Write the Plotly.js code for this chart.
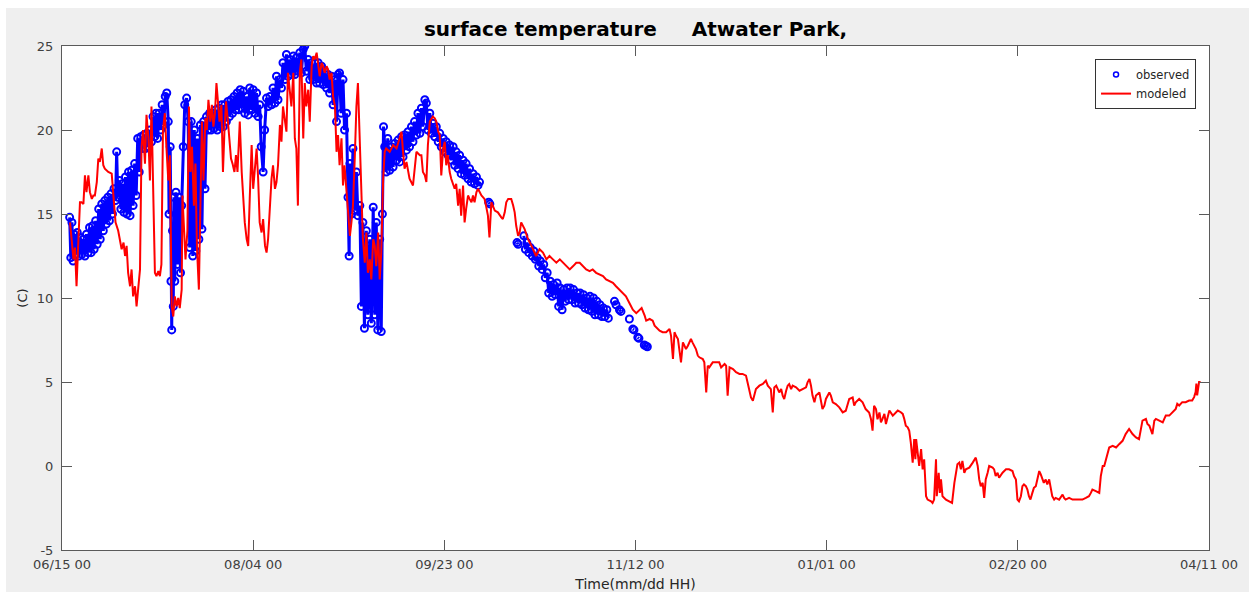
<!DOCTYPE html>
<html><head><meta charset="utf-8">
<script src="https://cdn.plot.ly/plotly-3.0.1.min.js"></script>
<style>
html,body{margin:0;padding:0;background:#ffffff;}
#chart{position:absolute;left:6px;top:8px;width:1243px;height:584px;}
</style></head><body><div id="chart"></div><script>
// Time origin: 06/15 00 ; day offsets below
const startDate = Date.UTC(2012, 5, 15);
const tickLabelsFormat = '%m/%d %H';
const chartTitle = 'surface temperature\u00A0\u00A0\u00A0\u00A0\u00A0Atwater Park,';
const xTitle = 'Time(mm/dd HH)';
const yTitle = '(C)';
const yTickVals = [-5, 0, 5, 10, 15, 20, 25];
const yTickText = ['-5', '0', '5', '10', '15', '20', '25'];

// observed (day offset, value); null = gap
const obsDay = [2.0,2.3,2.6,2.9,3.2,3.6,4.0,4.4,4.8,5.2,5.6,6.0,6.4,6.8,7.2,7.6,8.0,8.4,8.8,9.2,9.6,10.0,10.4,10.8,11.2,11.6,12.0,12.4,12.8,13.2,13.6,14.0,14.3,14.6,15.0,15.4,15.8,16.2,16.6,17.0,17.4,17.8,18.2,18.6,19.0,19.4,19.8,20.2,20.6,21.0,21.4,21.8,22.2,22.6,23.0,23.4,23.8,24.2,24.6,25.0,25.4,25.8,26.2,26.6,27.0,27.4,27.8,28.0,28.3,28.5,28.7,28.9,29.1,29.3,29.5,29.8,30.2,30.6,31.0,31.3,31.7,32.1,32.6,33.0,33.4,33.8,34.2,34.6,35.0,35.4,35.8,36.2,36.6,37.0,37.4,37.8,38.2,38.6,39.0,39.4,39.8,40.2,40.6,41.0,41.4,41.8,42.2,42.6,43.0,43.4,43.8,44.2,44.6,45.0,45.4,45.8,46.2,46.6,47.0,
47.4,47.8,48.3,48.7,49.1,49.6,50.0,50.5,50.9,51.3,51.7,52.1,52.6,53.0,53.5,53.9,54.4,54.8,55.2,55.7,56.1,56.5,57.0,57.4,57.8,58.3,58.7,59.1,59.6,60.0,60.5,60.9,61.3,61.8,62.2,62.6,63.1,63.5,63.9,64.4,64.8,65.3,65.7,66.2,66.6,67.0,67.4,67.9,68.3,68.7,69.2,69.6,70.0,70.5,70.9,71.4,71.8,72.2,72.6,73.0,73.5,73.9,74.4,74.8,75.1,75.3,75.7,76.1,76.6,77.0,77.4,77.9,78.3,78.7,79.1,79.6,80.0,80.5,80.9,81.4,81.8,82.2,82.6,83.1,83.5,83.8,84.1,84.4,84.8,85.2,85.7,86.1,86.6,87.0,87.5,87.9,88.3,88.8,89.2,89.6,90.1,90.5,90.9,91.4,91.8,92.2,92.7,93.1,93.6,94.0,94.4,94.9,95.3,
95.7,96.2,96.6,97.0,97.5,97.9,98.4,98.8,99.2,99.7,100.1,100.5,101.0,101.4,101.8,102.3,102.7,103.1,103.6,104.0,104.4,104.9,105.3,105.7,106.2,106.6,107.0,107.5,107.9,108.4,108.8,109.2,null,111.6,111.9,null,119.0,119.3,null,120.8,121.2,121.6,122.1,122.5,123.0,123.4,123.8,124.3,124.7,125.1,125.6,126.0,126.4,126.9,127.3,127.7,128.2,128.6,129.0,129.5,129.9,130.3,130.8,131.2,131.6,132.1,132.5,132.9,133.4,133.8,134.2,134.7,135.1,135.5,136.0,136.4,136.8,137.3,137.7,138.1,138.6,139.0,139.4,139.9,140.3,140.7,141.2,141.6,142.0,142.5,142.9,null,144.5,144.9,null,145.8,146.2,null,148.4,null,149.3,149.6,null,150.6,150.9,null,152.3,152.7,153.1];
const obsVal = [14.8,12.4,14.5,12.2,13.8,12.6,13.9,12.5,13.6,12.6,13.5,12.5,13.8,12.7,14.2,12.7,14.3,12.9,14.6,13.2,15.3,13.5,15.6,14.0,15.8,14.4,16.0,14.6,16.2,15.0,16.5,15.8,18.7,16.0,17.0,15.3,16.8,15.1,17.2,15.0,17.5,14.9,17.6,15.5,18.0,16.1,19.5,17.5,19.6,18.9,19.7,18.9,19.8,19.0,20.0,19.3,20.8,19.6,21.0,19.5,21.0,20.0,21.5,20.3,22.0,22.2,20.5,15.0,19.0,11.0,8.1,14.0,9.5,16.0,11.0,16.3,12.0,16.0,11.5,15.5,19.0,21.5,21.9,20.5,13.0,20.5,12.5,20.0,12.8,19.5,13.5,20.3,14.1,20.5,16.5,20.8,20.0,21.0,20.0,21.0,20.1,21.2,20.0,21.3,20.2,21.5,20.2,21.5,20.5,21.7,20.8,21.8,21.0,22.0,21.2,22.2,21.2,22.4,21.3,
22.3,21.0,22.0,20.9,22.5,21.2,22.4,21.0,22.2,20.8,21.5,19.0,17.5,20.0,21.9,21.4,22.0,21.5,22.5,21.6,23.2,21.8,23.0,22.5,24.0,23.0,24.5,23.2,24.2,23.3,24.4,23.3,24.3,23.5,24.6,23.4,24.8,25.0,23.5,24.2,23.0,24.0,23.0,24.0,22.8,24.0,22.8,23.8,22.7,23.5,22.5,23.3,22.2,23.2,21.5,23.0,20.5,23.3,23.4,21.0,23.0,20.0,21.0,16.0,12.5,18.0,15.0,18.9,15.2,17.5,14.9,15.5,9.5,14.5,8.2,14.0,9.0,13.5,8.5,15.4,9.0,14.5,8.1,13.5,8.0,15.0,20.2,19.0,17.5,19.5,17.6,19.0,17.8,19.2,18.2,19.4,18.1,19.6,18.4,19.7,18.8,19.9,19.0,20.2,19.3,20.5,19.7,21.0,19.8,21.3,20.2,21.8,21.6,
20.0,21.0,19.8,20.4,19.6,20.2,19.3,19.8,19.0,19.5,18.7,19.3,18.5,19.1,18.2,19.0,17.9,18.7,17.7,18.5,17.4,18.2,17.3,18.0,17.1,17.7,16.9,17.4,16.8,17.2,16.7,16.9,null,15.7,15.6,null,13.3,13.2,null,13.7,12.9,13.3,12.7,13.0,12.5,12.8,12.3,12.4,11.9,12.2,11.7,12.0,11.2,11.5,10.3,11.0,10.1,10.8,10.2,10.9,9.5,10.6,9.3,10.5,9.8,10.6,9.9,10.6,9.9,10.5,9.7,10.3,9.7,10.3,9.6,10.2,9.4,10.0,9.3,10.1,9.2,10.0,9.0,9.8,9.0,9.6,8.9,9.4,8.9,9.3,8.8,null,9.8,9.6,null,9.3,9.2,null,8.75,null,8.15,8.1,null,7.66,7.6,null,7.2,7.15,7.1];

// modeled (day offset, value)
const modDay = [2.1,2.6,3.0,3.4,3.8,4.3,4.7,5.1,5.6,6.0,6.4,6.9,7.3,7.8,8.2,8.6,9.1,9.5,9.9,10.4,10.8,11.2,12.1,13.0,13.5,14.0,14.7,15.2,15.6,16.1,16.5,16.9,17.3,17.8,18.2,18.6,19.1,19.5,19.9,20.4,20.8,21.2,21.7,22.1,22.6,23.0,23.4,23.9,24.3,24.7,25.2,25.6,26.0,26.4,26.9,27.3,27.8,28.2,28.5,28.7,29.1,29.5,30.0,30.4,30.8,31.3,31.5,31.9,32.3,32.8,33.2,33.6,34.0,34.5,34.9,35.3,35.8,36.2,36.6,37.0,37.5,37.9,38.3,38.8,39.2,39.6,40.0,40.4,40.8,41.2,41.7,42.1,42.5,42.9,43.4,43.8,44.2,44.6,45.1,45.5,45.9,46.3,46.5,47.0,47.4,47.8,48.3,48.7,49.1,49.6,50.0,50.9,51.3,51.7,52.2,52.6,53.1,53.5,53.9,54.4,54.8,55.2,55.7,56.1,56.5,57.0,57.4,57.8,58.7,59.1,59.6,60.0,60.5,60.9,61.3,61.7,62.2,62.6,63.1,63.5,63.9,64.4,64.8,65.3,65.7,66.1,66.6,67.0,67.4,67.9,68.3,68.7,69.2,69.6,70.0,70.5,70.9,71.4,71.8,72.2,72.6,73.1,73.5,73.9,74.4,74.8,75.3,75.7,76.1,76.6,77.0,77.4,77.9,78.3,78.7,79.2,79.6,80.0,80.5,80.9,81.4,81.8,82.2,82.7,83.1,83.5,84.0,84.4,84.8,85.7,86.6,87.5,88.3,88.8,89.2,89.6,90.1,90.5,90.9,91.8,92.3,92.7,93.6,94.0,94.4,94.9,95.3,95.7,96.2,96.6,97.0,97.5,97.9,98.4,98.8,99.2,99.7,100.1,100.5,100.9,101.4,101.8,102.3,102.7,103.1,103.6,104.0,104.4,104.9,105.3,105.7,106.2,106.6,107.1,107.5,107.9,108.4,108.8,109.7,110.5,110.9,111.4,111.8,112.3,113.2,114.0,114.9,115.3,115.8,116.2,116.7,117.5,118.0,118.4,118.8,119.3,119.7,120.1,121.0,121.9,122.8,123.6,124.0,124.9,125.8,126.7,127.5,128.4,129.3,130.2,131.0,131.9,132.8,133.7,134.5,135.4,136.2,137.1,138.0,138.8,139.7,140.6,141.5,142.3,143.2,144.1,144.9,145.8,146.7,147.5,148.4,149.3,150.2,151.0,151.6,152.4,152.8,153.7,154.5,155.0,155.4,156.3,157.1,158.0,158.9,159.3,159.8,160.2,160.6,161.1,161.9,162.4,162.8,163.2,163.7,164.5,164.9,165.4,165.8,166.3,166.7,167.6,168.0,168.5,168.9,169.3,170.2,171.1,171.9,172.4,173.3,173.7,174.1,174.6,175.5,176.3,177.2,178.0,178.9,179.3,179.8,180.2,180.7,181.1,181.5,182.4,183.3,184.1,184.6,185.4,185.9,186.3,186.8,187.6,188.1,188.5,188.9,189.4,189.8,190.2,190.7,191.1,192.0,192.9,193.7,194.6,195.0,195.5,195.9,196.3,196.8,197.2,198.1,198.5,198.9,199.4,199.8,200.7,201.1,201.6,202.4,203.3,204.2,205.0,205.9,206.8,207.2,207.6,208.5,209.4,210.2,211.1,211.6,212.0,212.4,212.9,213.3,213.8,214.2,214.6,215.1,215.5,215.9,216.4,217.3,218.1,218.6,219.4,219.9,220.3,220.7,221.2,221.6,222.0,222.5,222.9,223.2,223.4,223.8,224.2,224.7,225.1,225.5,226.0,226.4,227.3,227.7,228.1,228.6,228.8,229.3,229.6,229.9,230.3,231.2,232.1,232.8,233.4,233.8,234.2,234.7,235.1,235.5,236.0,236.4,237.3,238.2,239.0,239.5,239.9,240.3,240.8,241.2,241.6,242.1,242.5,243.4,243.8,244.2,244.7,245.1,246.0,246.9,247.7,248.6,249.0,249.5,249.9,250.3,250.8,251.2,251.6,252.1,252.5,252.9,253.3,253.8,254.2,254.7,255.1,255.6,256.0,256.4,256.8,257.3,257.7,258.2,258.6,259.0,259.5,259.9,260.8,261.7,262.1,262.5,263.4,264.3,265.2,266.0,266.9,267.8,268.6,269.1,269.5,270.4,271.3,271.7,272.2,272.6,273.0,273.5,273.9,274.8,275.7,276.5,277.0,277.4,278.2,279.1,280.0,280.9,281.7,282.2,282.6,283.5,283.9,284.4,284.8,285.2,285.7,286.1,287.0,287.9,288.3,288.7,289.6,290.4,291.3,291.7,292.2,293.0,293.5,293.9,294.8,295.6,296.1,296.5,296.7,296.9,297.4,297.8];
const modVal = [14.5,13.1,12.3,13.0,10.7,13.5,15.7,15.7,15.6,17.3,16.3,17.3,16.3,15.9,16.1,16.1,16.9,18.3,18.1,18.9,17.9,17.7,17.5,17.4,16.0,14.5,14.0,13.3,12.9,13.3,12.5,13.1,11.5,10.7,11.7,10.1,10.7,9.5,10.5,11.7,19.0,20.0,18.0,20.9,19.5,17.0,21.4,15.0,11.5,11.3,11.6,11.3,12.0,20.0,21.0,19.0,17.0,18.5,10.0,9.5,8.9,10.1,9.5,10.0,9.4,10.5,16.1,14.3,12.3,14.0,21.4,17.5,19.0,15.5,18.0,13.0,10.5,15.5,20.5,17.0,20.7,20.0,21.8,20.5,21.5,20.2,21.0,22.8,21.5,20.5,21.5,17.5,20.0,21.7,20.5,19.5,18.3,18.0,17.5,18.5,17.5,19.5,20.5,17.5,15.9,14.5,13.5,13.1,15.9,19.1,16.5,18.9,17.1,14.5,13.9,14.7,13.1,12.7,13.5,15.5,17.1,17.9,16.5,16.9,17.9,20.3,19.3,21.4,19.9,23.4,22.4,21.4,23.4,19.5,18.9,15.5,23.4,24.2,19.5,22.8,21.4,22.4,20.5,23.8,24.4,24.2,24.6,23.8,23.2,24.0,23.8,23.4,23.8,23.6,23.0,23.4,22.0,21.4,18.7,19.7,17.9,19.5,16.7,17.9,16.5,15.5,13.7,14.5,15.5,18.5,21.4,22.8,19.5,16.5,13.5,12.1,13.9,11.5,12.3,11.1,13.5,13.1,11.9,13.9,11.1,12.7,17.1,18.7,18.9,18.7,19.1,18.9,19.5,19.9,18.7,17.7,18.1,17.5,17.1,16.7,17.9,18.7,18.5,18.5,17.5,17.3,16.9,19.1,20.5,20.7,20.8,20.7,20.5,19.9,19.7,17.3,18.9,19.3,17.9,18.5,17.5,17.1,16.7,16.5,16.8,15.5,16.5,14.9,16.7,14.5,15.3,16.1,15.9,15.7,16.1,15.7,16.3,16.5,16.1,15.9,15.5,14.9,13.6,15.7,15.2,15.1,14.8,14.7,15.1,15.7,15.9,15.9,15.5,15.1,14.3,13.7,13.9,14.5,14.1,13.5,13.1,12.7,12.5,12.9,12.7,12.3,12.5,12.3,12.1,12.3,12.1,11.9,11.7,11.9,12.1,12.1,11.9,11.7,11.6,11.7,11.5,11.4,11.3,11.1,11.0,10.9,10.7,10.5,10.3,10.1,9.7,9.3,9.1,9.3,9.4,8.95,8.65,8.75,8.65,8.35,8.25,8.05,7.96,7.96,8.15,7.75,6.37,7.96,7.75,7.56,6.17,7.36,7.16,6.96,7.16,7.56,7.36,7.16,6.96,6.57,6.47,6.37,6.17,4.38,5.97,5.87,6.17,6.17,6.17,5.87,6.07,5.97,4.19,5.87,5.77,5.58,5.48,5.48,5.38,4.98,4.38,4.08,3.89,4.19,4.58,4.78,4.88,5.08,4.78,4.58,3.19,4.68,4.78,4.38,4.58,4.19,3.99,4.48,4.78,4.88,4.58,4.78,4.68,4.48,4.58,4.68,4.98,5.18,4.78,4.19,3.79,4.19,4.38,3.79,3.39,3.59,3.99,4.38,4.19,3.79,3.69,3.49,3.19,3.29,3.99,4.08,3.59,3.79,3.99,3.79,3.39,3.19,2.78,2.1,3.59,3.39,2.78,3.19,2.6,2.8,3.1,2.5,2.9,3.3,3.0,3.2,3.3,3.2,3.1,2.8,2.4,2.3,2.1,1.4,0.2,1.6,0.4,1.6,0.8,0.0,1.0,-0.2,0.4,-1.8,-2.0,-2.1,-2.2,-2.0,0.4,-1.8,-0.4,-1.6,-0.8,-1.8,-2.0,-2.1,-2.2,-1.0,-0.4,0.1,0.2,-0.2,0.3,-0.4,-0.2,-0.1,0.2,0.5,0.0,-0.8,-1.2,-1.0,-1.9,-0.8,-0.4,0.0,-0.1,-0.2,-0.6,-0.4,-0.7,-0.4,-0.2,-0.2,-0.3,-0.6,-0.8,-2.0,-2.1,-1.8,-1.2,-1.1,-1.2,-1.4,-1.8,-2.0,-1.6,-1.3,-1.2,-0.8,-0.3,-0.5,-0.7,-1.0,-0.8,-1.1,-0.8,-1.2,-1.8,-2.0,-1.9,-2.0,-1.7,-1.9,-2.0,-1.9,-2.0,-2.0,-2.0,-2.0,-1.9,-1.8,-1.6,-1.4,-1.5,-1.6,-0.6,0.0,0.0,0.4,0.8,1.1,1.2,1.1,1.3,1.4,1.5,1.9,2.2,1.9,1.7,1.6,2.3,2.7,2.8,2.5,2.4,2.1,1.9,2.7,2.8,2.7,2.6,2.8,3.0,3.0,3.2,3.4,3.7,3.6,3.8,3.8,3.8,3.9,3.9,4.1,4.4,4.9,4.2,5.0,5.0];

const DAY = 86400000;
const toTime = d => (d === null ? null : startDate + d * DAY);

const traces = [
  {x: obsDay.map(toTime), y: obsVal, type: 'scatter', mode: 'lines+markers', name: 'observed', showlegend: false,
   connectgaps: false, line: {color: '#0000ff', width: 3},
   marker: {symbol: 'circle-open', size: 7, color: '#0000ff', line: {width: 2, color: '#0000ff'}}},
  {x: [null], y: [null], type: 'scatter', mode: 'markers', name: 'observed',
   marker: {symbol: 'circle-open', size: 5, color: '#0000ff', line: {width: 1.5, color: '#0000ff'}}},
  {x: modDay.map(toTime), y: modVal, type: 'scatter', mode: 'lines', name: 'modeled',
   line: {color: '#ff0000', width: 2}}
];

const axisCommon = {showline: true, mirror: 'ticks', linecolor: '#5a5a5a', linewidth: 1,
  ticks: 'inside', ticklen: 10, tickcolor: '#5a5a5a', tickwidth: 1, showgrid: false, zeroline: false,
  tickfont: {family: 'DejaVu Sans', size: 13, color: '#404040'}};

const layout = {
  width: 1243, height: 584,
  paper_bgcolor: '#efefef', plot_bgcolor: '#ffffff',
  margin: {l: 56, r: 40, t: 38, b: 42},
  font: {family: 'DejaVu Sans', size: 12, color: '#262626'},
  title: {text: chartTitle, x: 0.5, xref: 'paper', xanchor: 'center', y: 1 - 21/584, yref: 'container', yanchor: 'middle',
    font: {family: 'DejaVu Sans', size: 20, color: '#000000', weight: 'bold'}},
  xaxis: Object.assign({}, axisCommon, {type: 'date', range: [startDate, startDate + 300 * DAY],
    tick0: startDate, dtick: 50 * DAY, tickformat: tickLabelsFormat, ticklabelstandoff: 2,
    title: {text: xTitle, font: {family: 'DejaVu Sans', size: 14, color: '#262626'}, standoff: 8}}),
  yaxis: Object.assign({}, axisCommon, {range: [-5, 25], tickmode: 'array', tickvals: yTickVals, ticktext: yTickText,
    ticklabelstandoff: 5,
    title: {text: yTitle, font: {family: 'DejaVu Sans', size: 13, color: '#262626'}, standoff: 6}}),
  legend: {x: 0.9887, y: 0.974, xanchor: 'right', yanchor: 'top', bgcolor: '#ffffff',
    bordercolor: '#333333', borderwidth: 1, font: {family: 'DejaVu Sans', size: 11.5, color: '#262626'},
    tracegroupgap: 0, itemwidth: 30},
  showlegend: true
};

Plotly.newPlot('chart', traces, layout, {displayModeBar: false, staticPlot: true});
</script></body></html>
